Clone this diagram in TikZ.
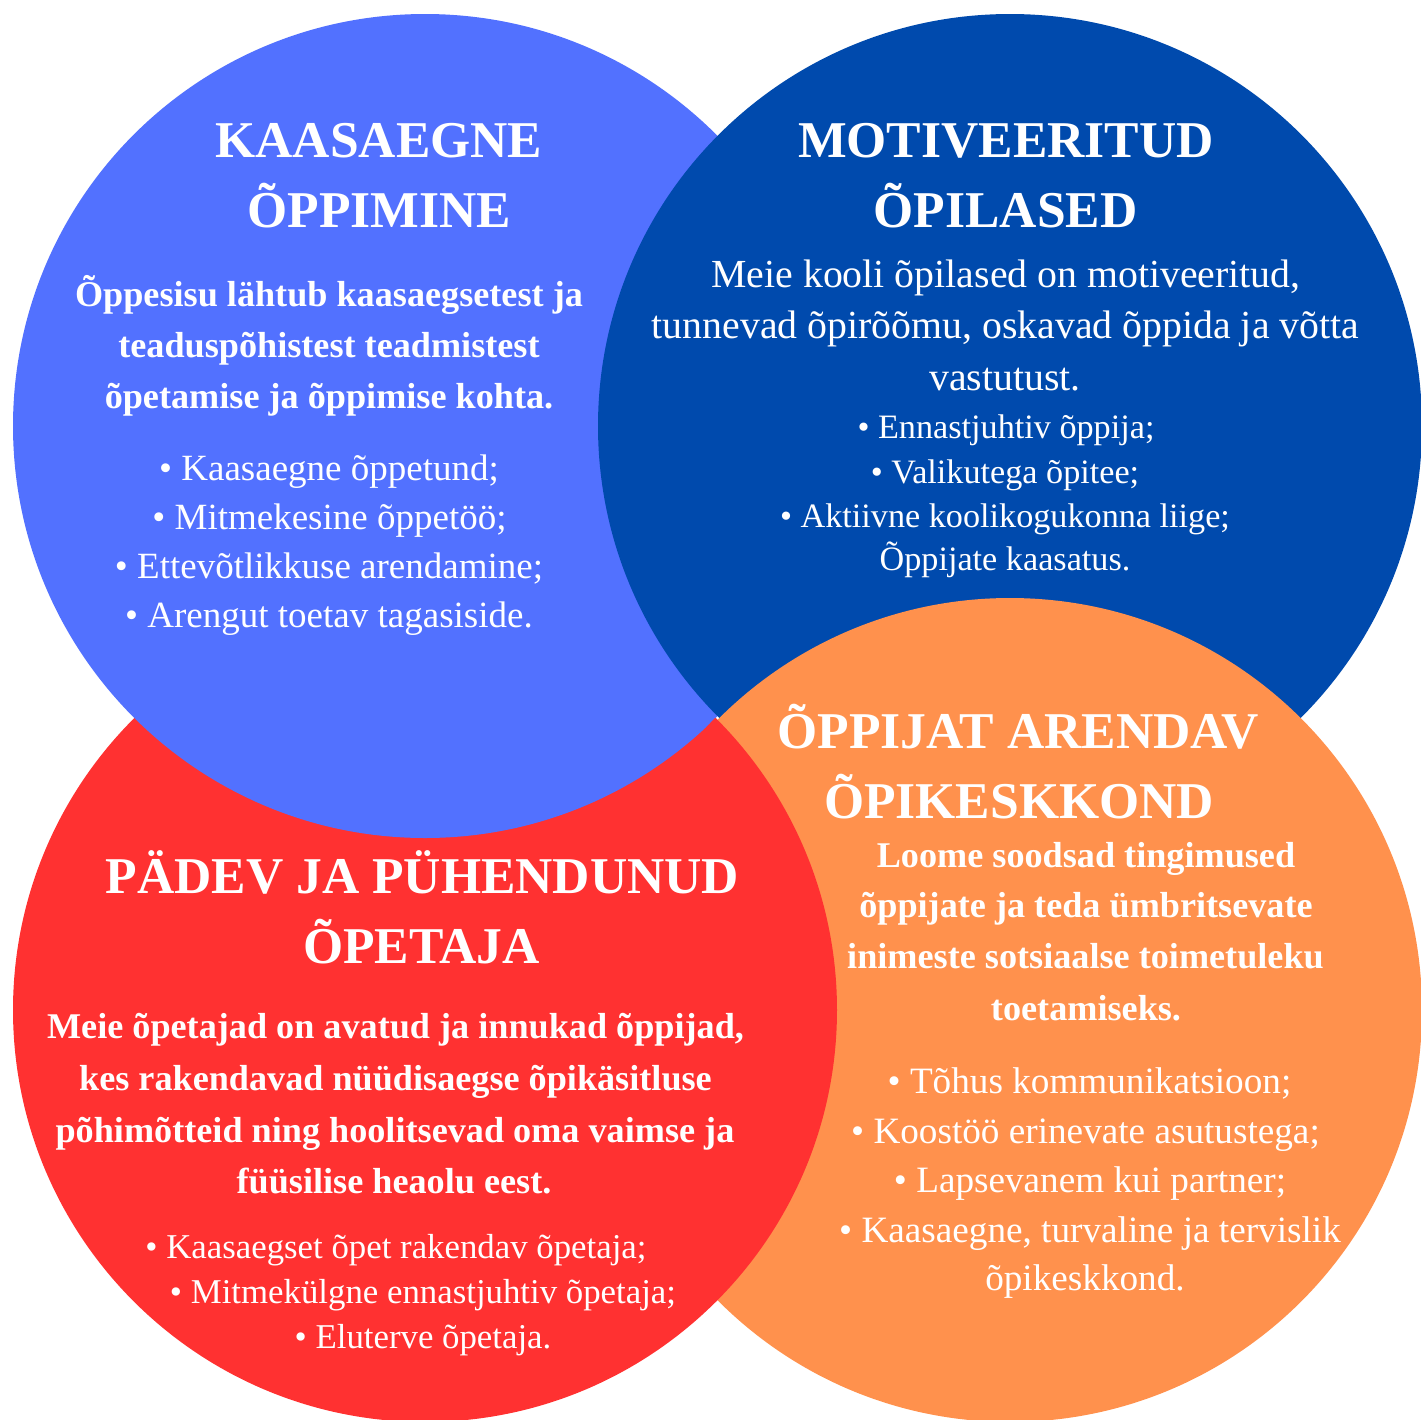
\documentclass[tikz,border=0pt]{standalone}
\usepackage{fontspec}
\setmainfont{Liberation Serif}
\definecolor{clblue}{HTML}{5271FF}
\definecolor{cdblue}{HTML}{004AAD}
\definecolor{cred}{HTML}{FF3131}
\definecolor{corange}{HTML}{FF914D}
\tikzset{
  txt/.style={text=white, inner sep=0pt, anchor=base},
  ttl/.style={txt, font=\fontsize{25.8}{30}\selectfont\bfseries},
  bpara/.style={txt, font=\fontsize{18.1}{22}\selectfont\bfseries},
  rpara/.style={txt, font=\fontsize{19.9}{24}\selectfont},
  bulA/.style={txt, font=\fontsize{18.5}{22}\selectfont},
  bulB/.style={txt, font=\fontsize{17.1}{21}\selectfont},
  bulC/.style={txt, font=\fontsize{18.6}{22}\selectfont},
  bulD/.style={txt, font=\fontsize{17.4}{21}\selectfont},
}
\begin{document}
\begin{tikzpicture}[x=0.5pt,y=-0.5pt]
\useasboundingbox (0,0) rectangle (1421,1420);
\fill[white] (0,0) rectangle (1421,1420);
\begin{scope}
\clip (0,0) rectangle (1421,1420);
\fill[cred] (425,1010) circle[radius=412];
\fill[clblue] (425,426) circle[radius=412];
\fill[cdblue] (1010,426) circle[radius=412];
\fill[corange] (1010,1010) circle[radius=412];
\begin{scope}
\clip (1010,1010) circle[radius=415];
\fill[cred] (425,1010) circle[radius=412];
\end{scope}
\end{scope}

% top-left
\node[ttl] (a1) at (379,157) {KAASAEGNE};
\node[ttl] (a2) at (379.5,227) {ÕPPIMINE};
\node[bpara] (a3) at (329,306) {Õppesisu lähtub kaasaegsetest ja};
\node[bpara] (a4) at (329,357) {teaduspõhistest teadmistest};
\node[bpara] (a5) at (329,408) {õpetamise ja õppimise kohta.};
\node[bulA] (a6) at (329,480) {• Kaasaegne õppetund;};
\node[bulA] (a7) at (329.5,529) {• Mitmekesine õppetöö;};
\node[bulA] (a8) at (329,578) {• Ettevõtlikkuse arendamine;};
\node[bulA] (a9) at (329,627) {• Arengut toetav tagasiside.};

% top-right
\node[ttl] (b1) at (1006,157) {MOTIVEERITUD};
\node[ttl] (b2) at (1005.5,227) {ÕPILASED};
\node[rpara] (b3) at (1006,287) {Meie kooli õpilased on motiveeritud,};
\node[rpara] (b4) at (1005.5,338) {tunnevad õpirõõmu, oskavad õppida ja võtta};
\node[rpara] (b5) at (1005,390) {vastutust.};
\node[bulB] (b6) at (1006,438) {• Ennastjuhtiv õppija;};
\node[bulB] (b7) at (1005,483) {• Valikutega õpitee;};
\node[bulB] (b8) at (1005,527) {• Aktiivne koolikogukonna liige;};
\node[bulB] (b9) at (1005,570) {Õppijate kaasatus.};

% bottom-right
\node[ttl] (c1) at (1018,748) {ÕPPIJAT ARENDAV};
\node[ttl] (c2) at (1019,818) {ÕPIKESKKOND};
\node[bpara] (c3) at (1086,867) {Loome soodsad tingimused};
\node[bpara] (c4) at (1086,917) {õppijate ja teda ümbritsevate};
\node[bpara] (c5) at (1085.5,968) {inimeste sotsiaalse toimetuleku};
\node[bpara] (c6) at (1086,1020) {toetamiseks.};
\node[bulC] (c7) at (1089.5,1093) {• Tõhus kommunikatsioon;};
\node[bulC] (c8) at (1085.5,1143) {• Koostöö erinevate asutustega;};
\node[bulC] (c9) at (1090,1192) {• Lapsevanem kui partner;};
\node[bulC] (c10) at (1090,1242) {• Kaasaegne, turvaline ja tervislik};
\node[bulC] (c11) at (1085,1290) {õpikeskkond.};

% bottom-left
\node[ttl] (d1) at (422.5,893) {PÄDEV JA PÜHENDUNUD};
\node[ttl] (d2) at (421.5,963) {ÕPETAJA};
\node[bpara] (d3) at (395.5,1038) {Meie õpetajad on avatud ja innukad õppijad,};
\node[bpara] (d4) at (395.5,1090) {kes rakendavad nüüdisaegse õpikäsitluse};
\node[bpara] (d5) at (395,1142) {põhimõtteid ning hoolitsevad oma vaimse ja};
\node[bpara] (d6) at (394,1193) {füüsilise heaolu eest.};
\node[bulD] (d7) at (396,1258) {• Kaasaegset õpet rakendav õpetaja;};
\node[bulD] (d8) at (423,1303) {• Mitmekülgne ennastjuhtiv õpetaja;};
\node[bulD] (d9) at (423,1348) {• Eluterve õpetaja.};
\end{tikzpicture}
\end{document}
